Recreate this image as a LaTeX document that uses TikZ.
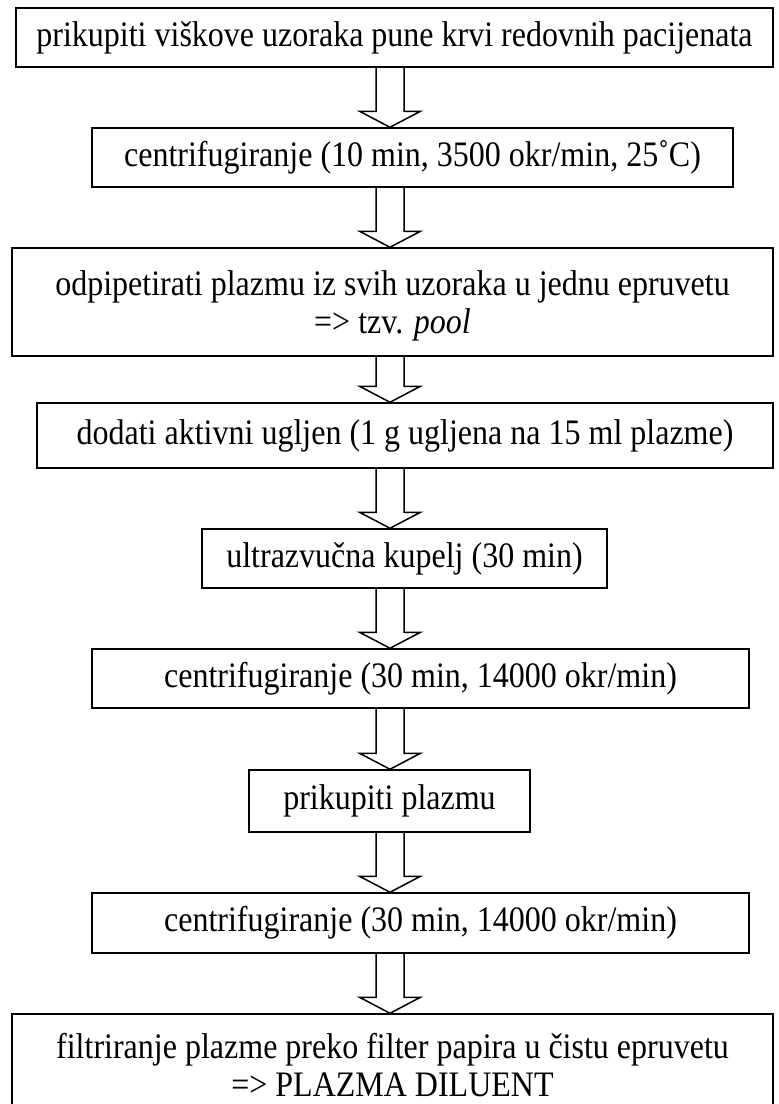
\documentclass[tikz,border=0pt]{standalone}
\usepackage{fontspec}
\usepackage{graphicx}
\setmainfont{Liberation Serif}
\usetikzlibrary{calc}
\newcommand{\vst}[1]{\scalebox{1}[1.12]{#1}}
\newcommand{\blockarr}[2]{%
  \draw[blockarrow] ($(axis |- #1.south)+(-14,0)$) -- ($(axis |- #2.north)+(-14,16)$)
    -- ($(axis |- #2.north)+(-30.5,16)$) -- (axis |- #2.north)
    -- ($(axis |- #2.north)+(30.5,16)$) -- ($(axis |- #2.north)+(14,16)$)
    -- ($(axis |- #1.south)+(14,0)$);}
\begin{document}
\begin{tikzpicture}[x=1pt,y=1pt,
  box/.style={draw, line width=1.5pt, inner sep=0pt, align=center,
    font=\fontsize{32}{37}\selectfont},
  boxtext/.style={inner sep=0pt, align=center, font=\fontsize{32}{38}\selectfont},
  blockarrow/.style={draw, line width=1.5pt, line join=miter}]
\useasboundingbox (0,0) rectangle (779,-1104);
\clip (0,0) rectangle (779,-1104);
\coordinate (axis) at (390,0);
\node[box, minimum width=757pt, minimum height=59pt] (b1) at (394.5,-37.5)
  {\vst{prikupiti viškove uzoraka pune krvi redovnih pacijenata}};
\node[box, minimum width=641pt, minimum height=59pt] (b2) at (412.5,-157.5)
  {\vst{centrifugiranje (10 min, 3500 okr/min, 25˚C)}};
\node[box, minimum width=761pt, minimum height=108pt] (b3) at (392.5,-302) {};
\node[boxtext] (b3t) at ([yshift=-4pt]b3.center)
  {\vst{odpipetirati plazmu iz svih uzoraka u jednu epruvetu}\\\vst{=> tzv. \textit{pool}}};
\node[box, minimum width=736pt, minimum height=65pt] (b4) at (405,-435.5)
  {\vst{dodati aktivni ugljen (1 g ugljena na 15 ml plazme)}};
\node[box, minimum width=405pt, minimum height=59pt] (b5) at (404.5,-558.5)
  {\vst{ultrazvučna kupelj (30 min)}};
\node[box, minimum width=657pt, minimum height=59pt] (b6) at (420.5,-678.5)
  {\vst{centrifugiranje (30 min, 14000 okr/min)}};
\node[box, minimum width=281pt, minimum height=62pt] (b7) at (389.5,-801)
  {\vst{prikupiti plazmu}};
\node[box, minimum width=657pt, minimum height=60pt] (b8) at (420.5,-923)
  {\vst{centrifugiranje (30 min, 14000 okr/min)}};
\node[box, minimum width=761pt, minimum height=108pt] (b9) at (392.5,-1068) {};
\node[boxtext] (b9t) at ([yshift=3pt]b9.center)
  {\vst{filtriranje plazme preko filter papira u čistu epruvetu}\\\vst{=> PLAZMA DILUENT}};
\blockarr{b1}{b2}
\blockarr{b2}{b3}
\blockarr{b3}{b4}
\blockarr{b4}{b5}
\blockarr{b5}{b6}
\blockarr{b6}{b7}
\blockarr{b7}{b8}
\blockarr{b8}{b9}
\end{tikzpicture}
\end{document}
